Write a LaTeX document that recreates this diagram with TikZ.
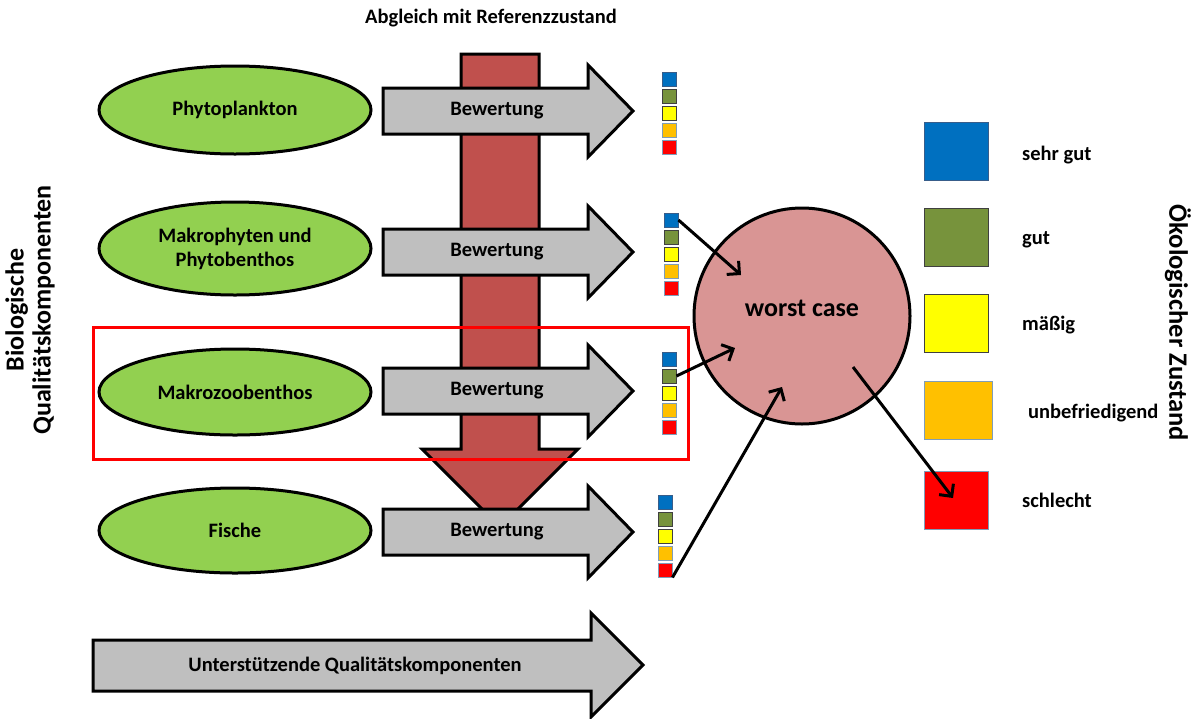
\documentclass[tikz,border=0pt]{standalone}
\usepackage{fontspec}
\setmainfont{Carlito}
\usetikzlibrary{arrows.meta,shapes.geometric}
\definecolor{bgray}{HTML}{BFBFBF}
\definecolor{dred}{HTML}{C0504D}
\definecolor{lgreen}{HTML}{92D050}
\definecolor{pinkc}{HTML}{D99594}
\definecolor{qblue}{HTML}{0070C0}
\definecolor{qgreen}{HTML}{77933C}
\definecolor{qyellow}{HTML}{FFFF00}
\definecolor{qorange}{HTML}{FFC000}
\definecolor{qred}{HTML}{FF0000}
\definecolor{edgeblue}{HTML}{385D8A}
\definecolor{edgedark}{HTML}{404040}
\definecolor{edgelight}{HTML}{7F9DB9}
\begin{document}
\begin{tikzpicture}[x=1pt,y=-1pt,
  font=\bfseries\fontsize{20.5}{24}\selectfont,
  blockarrow/.style={draw=black,line width=3pt,fill=bgray,line join=miter},
  redarrow/.style={draw=black,line width=3pt,fill=dred,line join=miter},
  comp/.style={ellipse,draw=black,line width=3pt,fill=lgreen,minimum width=272pt,minimum height=88pt,align=center,inner sep=0pt},
  sq/.style={rectangle,minimum size=14pt,inner sep=0pt,line width=0.9pt},
  legsq/.style={rectangle,minimum width=64pt,minimum height=58pt,inner sep=0pt,line width=1pt},
  leglab/.style={anchor=west,inner sep=0pt},
  conn/.style={line width=3pt,-{Straight Barb[length=9pt,width=18pt,line width=3pt]}},
  plain/.style={inner sep=0pt},
  sidelab/.style={inner sep=0pt,font=\bfseries\fontsize{26}{27}\selectfont}
]
\useasboundingbox (0,0) rectangle (1198,718);
\fill[white] (0,0) rectangle (1198,718);

% title
\node[plain] (title) at (491,18) {Abgleich mit Referenzzustand};

% red downward arrow
\path[redarrow] (461,54) -- (539,54) -- (539,449) -- (578,449) -- (500,527) -- (422,449) -- (461,449) -- cycle;

% red frame
\draw[qred,line width=3pt] (93,327) rectangle (688,459);

% Bewertung arrows
\foreach \c/\n in {111/1,252/2,391/3,532/4}{
  \path[blockarrow] (383,\c-23) -- (588,\c-23) -- (588,\c-46) -- (633,\c) -- (588,\c+46) -- (588,\c+23) -- (383,\c+23) -- cycle;
  \node[plain] (bew\n) at (497,\c) {Bewertung};
}

% components
\node[comp] (phyto) at (235,110) {Phytoplankton};
\node[comp,minimum height=93pt] (makro) at (235,248.5) {Makrophyten und\\Phytobenthos};
\node[comp,minimum height=86pt] (mzb) at (235,392) {Makrozoobenthos};
\node[comp,minimum height=85pt] (fisch) at (235,530.5) {Fische};

% small squares
\foreach \r/\x/\y in {1/662/72,2/664/213,3/662/352,4/658/495}{
  \node[sq,fill=qblue,draw=edgeblue] (s\r-1) at (\x+7,\y+7) {};
  \node[sq,fill=qgreen,draw=edgedark] (s\r-2) at (\x+7,\y+24) {};
  \node[sq,fill=qyellow,draw=edgedark] (s\r-3) at (\x+7,\y+41) {};
  \node[sq,fill=qorange,draw=edgelight] (s\r-4) at (\x+7,\y+58) {};
  \node[sq,fill=qred,draw=edgelight] (s\r-5) at (\x+7,\y+75) {};
}

% worst case circle
\node[circle,draw=black,line width=3pt,fill=pinkc,minimum size=216pt,inner sep=0pt] (wc) at (802,316) {};
\node[plain,font=\bfseries\fontsize{26}{30}\selectfont] (wctext) at (802,308) {worst case};

% legend
\node[legsq,fill=qblue,draw=edgeblue] (lg1) at (956,151) {};
\node[legsq,fill=qgreen,draw=edgedark] (lg2) at (956,237.5) {};
\node[legsq,fill=qyellow,draw=edgedark] (lg3) at (956,323.5) {};
\node[legsq,fill=qorange,draw=edgelight,minimum width=68pt] (lg4) at (958,410) {};
\node[legsq,fill=qred,draw=edgelight] (lg5) at (956,500.5) {};
\node[leglab] (l1) at (1022,155) {sehr gut};
\node[leglab] (l2) at (1022,240) {gut};
\node[leglab] (l3) at (1022,325) {mäßig};
\node[leglab] (l4) at (1028,413) {unbefriedigend};
\node[leglab] (l5) at (1022,500) {schlecht};

% side labels
\node[sidelab,rotate=90,align=center] (bio) at (30,310) {Biologische\\Qualitätskomponenten};
\node[sidelab,rotate=-90,font=\bfseries\fontsize{26.5}{28}\selectfont] (oeko) at (1178,323) {Ökologischer Zustand};

% supporting arrow
\path[blockarrow] (93,640) -- (591,640) -- (591,613) -- (643,665) -- (591,717) -- (591,691) -- (93,691) -- cycle;
\node[plain] (unter) at (355,666) {Unterstützende Qualitätskomponenten};

% connectors
\coordinate (t1) at (741,275);
\coordinate (t2) at (735,348);
\coordinate (t3) at (782,387);
\coordinate (o4) at (853,367);
\coordinate (t4) at (953,498);
\draw[conn] (s2-1.east) -- (t1);
\draw[conn] (s3-2.east) -- (t2);
\draw[conn] (s4-5.south east) -- (t3);
\draw[conn] (o4) -- (t4);
\end{tikzpicture}
\end{document}
